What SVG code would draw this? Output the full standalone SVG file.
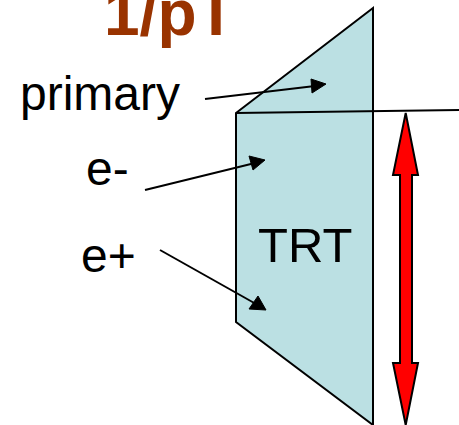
<svg xmlns="http://www.w3.org/2000/svg" width="459" height="425" viewBox="0 0 459 425">
<style>
text{font-family:"Liberation Sans",Arial,sans-serif;fill:#000;font-size:48px}
.ln{fill:none;stroke:#000;stroke-width:2}
.hd{fill:#000;stroke:#000;stroke-width:1}
.title{font-weight:bold;fill:#993300;font-size:64px}
</style>
<rect width="459" height="425" fill="#fff"/>
<g id="trt">
<polygon points="236,113 373,8 373,425 236,322" fill="#bbe0e3" stroke="#000" stroke-width="2"/>
<text x="258" y="262" style="font-size:49px">TRT</text>
</g>
<g id="title"><text class="title" x="104" y="35">1/pT</text></g>
<g id="primary"><text x="20" y="110">primary</text></g>
<g id="e-minus"><text x="86" y="185">e-</text></g>
<g id="e-plus"><text x="81" y="272">e+</text></g>
<g id="span-arrow">
<polygon points="405.7,113 418,175 412,175 412,363 418,363 405.7,425 393,363 400,363 400,175 393,175" fill="#f00" stroke="#000" stroke-width="2"/>
</g>
<g id="connectors">
<line class="ln" x1="236" y1="113" x2="459" y2="110"/>
<line class="ln" x1="205" y1="99" x2="315" y2="86"/>
<polygon class="hd" points="326,84 312,93 311,79"/>
<line class="ln" x1="145" y1="190" x2="255" y2="163"/>
<polygon class="hd" points="265,160 253,170 249,156"/>
<line class="ln" x1="160" y1="250" x2="256" y2="304"/>
<polygon class="hd" points="266,310 249,309 258,296"/>
</g>
</svg>
